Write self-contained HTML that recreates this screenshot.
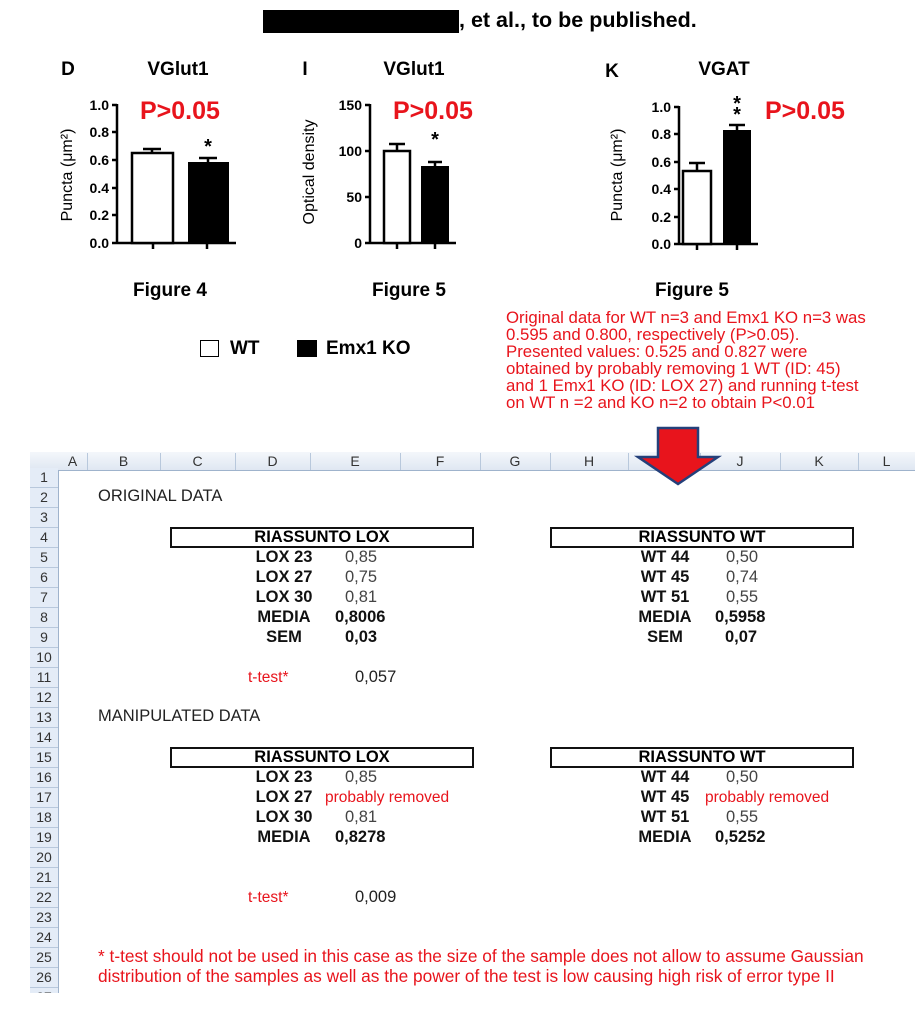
<!DOCTYPE html>
<html><head><meta charset="utf-8"><style>
body{margin:0;width:916px;height:1017px;background:#fff;position:relative;overflow:hidden;font-family:"Liberation Sans",Arial,sans-serif}
.a{position:absolute;white-space:nowrap}
.b{font-weight:bold}
.red{color:#e8141c}
.rn{position:absolute;left:30px;width:28px;text-align:center;font-size:14px;color:#333;border-bottom:1px solid #b8c8dc;background:#e4ecf7;height:19px;line-height:19px}
.ch{position:absolute;top:453px;height:17px;line-height:17px;text-align:center;font-size:14px;color:#333;border-right:1px solid #b8c8dc}
.lab{position:absolute;width:120px;text-align:center;font-weight:bold;font-size:16.5px;color:#111;line-height:19px}
.val{position:absolute;font-size:16.5px;color:#444;line-height:19px}
</style></head><body>
<div class="a" style="left:263px;top:10px;width:196px;height:23px;background:#000"></div>
<div class="a b" style="left:459px;top:8px;font-size:21.5px">, et al., to be published.</div>

<svg class="a" style="left:0;top:0" width="916" height="300" font-family="Liberation Sans,Arial,sans-serif">
<g font-weight="bold" font-size="19" text-anchor="middle">
<text x="68" y="75">D</text><text x="178" y="75">VGlut1</text>
<text x="305" y="75">I</text><text x="414" y="75">VGlut1</text>
<text x="612" y="77">K</text><text x="724" y="75">VGAT</text>
<text x="170" y="296">Figure 4</text><text x="409" y="296">Figure 5</text><text x="692" y="296">Figure 5</text>
</g>
<g fill="#e8141c" font-weight="bold" font-size="25"><text x="140" y="119">P&gt;0.05</text><text x="393" y="119">P&gt;0.05</text><text x="765" y="119">P&gt;0.05</text></g>
<g stroke="#000" stroke-width="2.5" fill="none">
<path d="M117 104V243H236M112 105H117M112 132H117M112 160H117M112 188H117M112 215H117M112 243H117M153 243V249M207 243V249"/>
<path d="M370 104V243H456M365 105H370M365 151H370M365 197H370M365 243H370M397 243V249M435 243V249"/>
<path d="M679 106V244H758M674 107H679M674 134H679M674 162H679M674 189H679M674 217H679M674 244H679M697 244V250M737 244V250"/>
<path d="M152 153V149M143 149H161M208 162V158M199 158H217M397 151V144M389 144H405M435 166V162M428 162H442M697 171V163M689 163H705M737 130V125M729 125H745"/>
<rect x="132" y="153" width="41" height="90" fill="#fff"/><rect x="384" y="151" width="26" height="92" fill="#fff"/><rect x="683" y="171" width="28" height="73" fill="#fff"/>
</g>
<rect x="188" y="162" width="41" height="81"/><rect x="421" y="166" width="28" height="77"/><rect x="723" y="130" width="28" height="114"/>
<g font-weight="bold" font-size="14" text-anchor="end">
<text x="109" y="110">1.0</text><text x="109" y="137">0.8</text><text x="109" y="165">0.6</text><text x="109" y="193">0.4</text><text x="109" y="220">0.2</text><text x="109" y="248">0.0</text>
<text x="362" y="110">150</text><text x="362" y="156">100</text><text x="362" y="202">50</text><text x="362" y="248">0</text>
<text x="671" y="112">1.0</text><text x="671" y="139">0.8</text><text x="671" y="167">0.6</text><text x="671" y="194">0.4</text><text x="671" y="222">0.2</text><text x="671" y="249">0.0</text>
</g>
<g font-size="20" font-weight="bold" text-anchor="middle"><text x="208" y="153">*</text><text x="435" y="146">*</text><text x="737" y="110">*</text><text x="737" y="121">*</text></g>
<g font-size="16" text-anchor="middle">
<text transform="translate(72,175) rotate(-90)">Puncta (μm²)</text>
<text transform="translate(314,172) rotate(-90)">Optical density</text>
<text transform="translate(622,175) rotate(-90)">Puncta (μm²)</text>
</g>
</svg>

<div class="a" style="left:200px;top:340px;width:17px;height:15px;border:1.5px solid #000"></div>
<div class="a b" style="left:230px;top:338px;font-size:19px">WT</div>
<div class="a" style="left:297px;top:340px;width:20px;height:17px;background:#000"></div>
<div class="a b" style="left:326px;top:338px;font-size:19px">Emx1 KO</div>

<div class="a red" style="left:506px;top:309px;font-size:16.8px;line-height:17px">Original data for WT n=3 and Emx1 KO n=3 was<br>0.595 and 0.800, respectively (P&gt;0.05).<br>Presented values: 0.525 and 0.827 were<br>obtained by probably removing 1 WT (ID: 45)<br>and 1 Emx1 KO (ID: LOX 27) and running t-test<br>on WT n =2 and KO n=2 to obtain P&lt;0.01</div>

<div class="a" style="left:30px;top:452px;width:885px;height:18px;background:linear-gradient(#f4f7fb,#dfe7f2);border-bottom:1px solid #9fb3cc"></div>
<div class="a" style="left:30px;top:470px;width:28px;height:523px;background:#e4ecf7;border-right:1px solid #9fb3cc"></div>
<div class="ch" style="left:58px;width:29px">A</div><div class="ch" style="left:87px;width:73px">B</div><div class="ch" style="left:160px;width:75px">C</div><div class="ch" style="left:235px;width:75px">D</div><div class="ch" style="left:310px;width:90px">E</div><div class="ch" style="left:400px;width:80px">F</div><div class="ch" style="left:480px;width:70px">G</div><div class="ch" style="left:550px;width:78px">H</div><div class="ch" style="left:628px;width:72px">I</div><div class="ch" style="left:700px;width:80px">J</div><div class="ch" style="left:780px;width:78px">K</div><div class="ch" style="left:858px;width:57px;border:0">L</div>

<div class="rn" style="top:468px">1</div><div class="rn" style="top:488px">2</div><div class="rn" style="top:508px">3</div><div class="rn" style="top:528px">4</div><div class="rn" style="top:548px">5</div><div class="rn" style="top:568px">6</div><div class="rn" style="top:588px">7</div><div class="rn" style="top:608px">8</div><div class="rn" style="top:628px">9</div><div class="rn" style="top:648px">10</div><div class="rn" style="top:668px">11</div><div class="rn" style="top:688px">12</div><div class="rn" style="top:708px">13</div><div class="rn" style="top:728px">14</div><div class="rn" style="top:748px">15</div><div class="rn" style="top:768px">16</div><div class="rn" style="top:788px">17</div><div class="rn" style="top:808px">18</div><div class="rn" style="top:828px">19</div><div class="rn" style="top:848px">20</div><div class="rn" style="top:868px">21</div><div class="rn" style="top:888px">22</div><div class="rn" style="top:908px">23</div><div class="rn" style="top:928px">24</div><div class="rn" style="top:948px">25</div><div class="rn" style="top:968px">26</div><div class="rn" style="top:988px;height:5px;border:0;overflow:hidden">27</div>

<svg class="a" style="left:630px;top:426px" width="92" height="62"><path d="M28 2H68V31H88L48 58L8 31H28Z" fill="#e8141c" stroke="#24407a" stroke-width="2.5"/></svg>

<div class="a" style="left:98px;top:487px;font-size:16.5px;color:#222">ORIGINAL DATA</div>
<div class="a" style="left:98px;top:707px;font-size:16.5px;color:#222">MANIPULATED DATA</div>

<div class="a b" style="left:170px;top:527px;width:300px;height:17px;border:2px solid #111;text-align:center;font-size:16.5px;line-height:17px">RIASSUNTO LOX</div>
<div class="a b" style="left:550px;top:527px;width:300px;height:17px;border:2px solid #111;text-align:center;font-size:16.5px;line-height:17px">RIASSUNTO WT</div>
<div class="a b" style="left:170px;top:747px;width:300px;height:17px;border:2px solid #111;text-align:center;font-size:16.5px;line-height:17px">RIASSUNTO LOX</div>
<div class="a b" style="left:550px;top:747px;width:300px;height:17px;border:2px solid #111;text-align:center;font-size:16.5px;line-height:17px">RIASSUNTO WT</div>

<div class="lab" style="left:224px;top:548px">LOX 23</div><div class="val" style="left:345px;top:548px">0,85</div>
<div class="lab" style="left:224px;top:568px">LOX 27</div><div class="val" style="left:345px;top:568px">0,75</div>
<div class="lab" style="left:224px;top:588px">LOX 30</div><div class="val" style="left:345px;top:588px">0,81</div>
<div class="lab" style="left:224px;top:608px">MEDIA</div><div class="val b" style="left:335px;top:608px;color:#111">0,8006</div>
<div class="lab" style="left:224px;top:628px">SEM</div><div class="val b" style="left:345px;top:628px;color:#111">0,03</div>
<div class="a red" style="left:248px;top:669px;font-size:15.5px">t-test*</div><div class="val" style="left:355px;top:668px;color:#222">0,057</div>

<div class="lab" style="left:605px;top:548px">WT 44</div><div class="val" style="left:726px;top:548px">0,50</div>
<div class="lab" style="left:605px;top:568px">WT 45</div><div class="val" style="left:726px;top:568px">0,74</div>
<div class="lab" style="left:605px;top:588px">WT 51</div><div class="val" style="left:726px;top:588px">0,55</div>
<div class="lab" style="left:605px;top:608px">MEDIA</div><div class="val b" style="left:715px;top:608px;color:#111">0,5958</div>
<div class="lab" style="left:605px;top:628px">SEM</div><div class="val b" style="left:725px;top:628px;color:#111">0,07</div>

<div class="lab" style="left:224px;top:768px">LOX 23</div><div class="val" style="left:345px;top:768px">0,85</div>
<div class="lab" style="left:224px;top:788px">LOX 27</div><div class="a red" style="left:325px;top:789px;font-size:15.5px">probably removed</div>
<div class="lab" style="left:224px;top:808px">LOX 30</div><div class="val" style="left:345px;top:808px">0,81</div>
<div class="lab" style="left:224px;top:828px">MEDIA</div><div class="val b" style="left:335px;top:828px;color:#111">0,8278</div>
<div class="a red" style="left:248px;top:889px;font-size:15.5px">t-test*</div><div class="val" style="left:355px;top:888px;color:#222">0,009</div>

<div class="lab" style="left:605px;top:768px">WT 44</div><div class="val" style="left:726px;top:768px">0,50</div>
<div class="lab" style="left:605px;top:788px">WT 45</div><div class="a red" style="left:705px;top:789px;font-size:15.5px">probably removed</div>
<div class="lab" style="left:605px;top:808px">WT 51</div><div class="val" style="left:726px;top:808px">0,55</div>
<div class="lab" style="left:605px;top:828px">MEDIA</div><div class="val b" style="left:715px;top:828px;color:#111">0,5252</div>

<div class="a red" style="left:98px;top:946px;font-size:17.3px;line-height:20px">* t-test should not be used in this case as the size of the sample does not allow to assume Gaussian<br>distribution of the samples as well as the power of the test is low causing high risk of error type II</div>
</body></html>
